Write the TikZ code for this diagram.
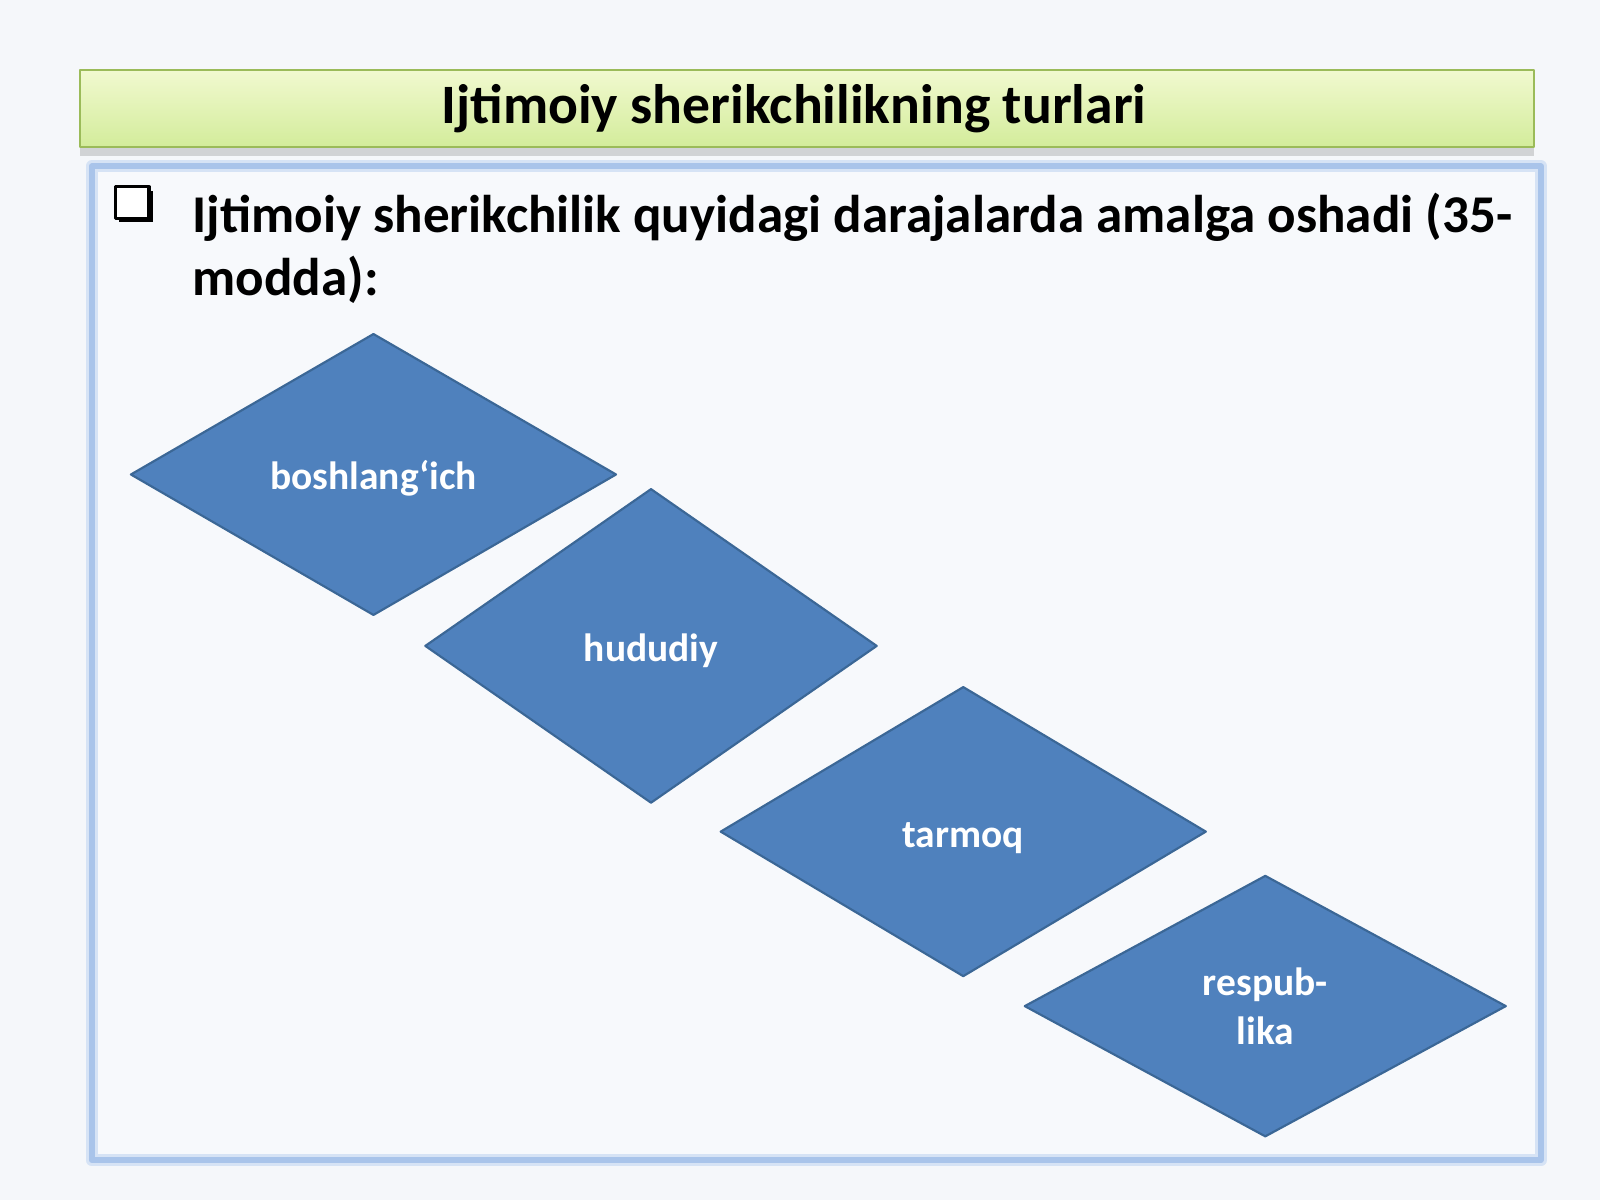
\documentclass[tikz,border=0pt]{standalone}
\usepackage{fontspec}
\setmainfont{Carlito}
\usetikzlibrary{shapes.geometric,shadows}
\definecolor{bgc}{HTML}{F5F7FA}
\definecolor{titletop}{HTML}{F1F9CF}
\definecolor{titlebot}{HTML}{D3EC9B}
\definecolor{titleline}{HTML}{9BBB59}
\definecolor{boxline}{HTML}{A9C4EA}
\definecolor{boxglow}{HTML}{D6E3F5}
\definecolor{boxfill}{HTML}{F7F9FC}
\definecolor{dfill}{HTML}{4F81BD}
\definecolor{dline}{HTML}{3B6796}
\begin{document}
\begin{tikzpicture}[x=0.01cm,y=-0.01cm,line join=round,
  level/.style={diamond,fill=dfill,draw=dline,line width=0.6pt,inner sep=0pt,
    text=white,font=\fontsize{11}{13.5}\selectfont\bfseries,align=center},
  oneline/.style={text height=0.9em,text depth=0.04em},
  bigtext/.style={font=\fontsize{15.5}{18}\selectfont\bfseries,inner sep=0pt},
  bodytext/.style={font=\fontsize{14.8}{18}\selectfont\bfseries,inner sep=0pt,anchor=base west}]
\fill[bgc] (0,0) rectangle (1568,1176);
% title bar
\shade[top color=titletop,bottom color=titlebot,draw=titleline,line width=0.6pt,
  drop shadow={opacity=0.3,shadow xshift=0pt,shadow yshift=-2.5pt}] (78,69) rectangle (1503,144);
\path (778,106) node[bigtext] (title) {Ijtimoiy sherikchilikning turlari};
% content box
\draw[boxglow,line width=3.4pt,fill=boxfill] (90,163) rectangle (1510,1137);
\draw[boxline,line width=1.6pt] (90,163) rectangle (1510,1137);
% checkbox
\fill[black] (117,187) rectangle (150,218);
\draw[fill=white,line width=0.9pt] (113,183) rectangle (146,214);
\path (188,228) node[bodytext] (line1) {Ijtimoiy sherikchilik quyidagi darajalarda amalga oshadi (35-};
\path (188,290) node[bodytext] (line2) {modda):};
% levels
\node[level,oneline,minimum width=4.76cm,minimum height=2.76cm] (boshlang) at (366,465) {boshlang‘ich};
\node[level,oneline,minimum width=4.43cm,minimum height=3.08cm] (hududiy) at (638,633) {hududiy};
\node[level,oneline,minimum width=4.76cm,minimum height=2.84cm] (tarmoq) at (944,815) {tarmoq};
\node[level,minimum width=4.72cm,minimum height=2.56cm] (respublika) at (1240,986) {respub-\\lika};
\end{tikzpicture}
\end{document}
